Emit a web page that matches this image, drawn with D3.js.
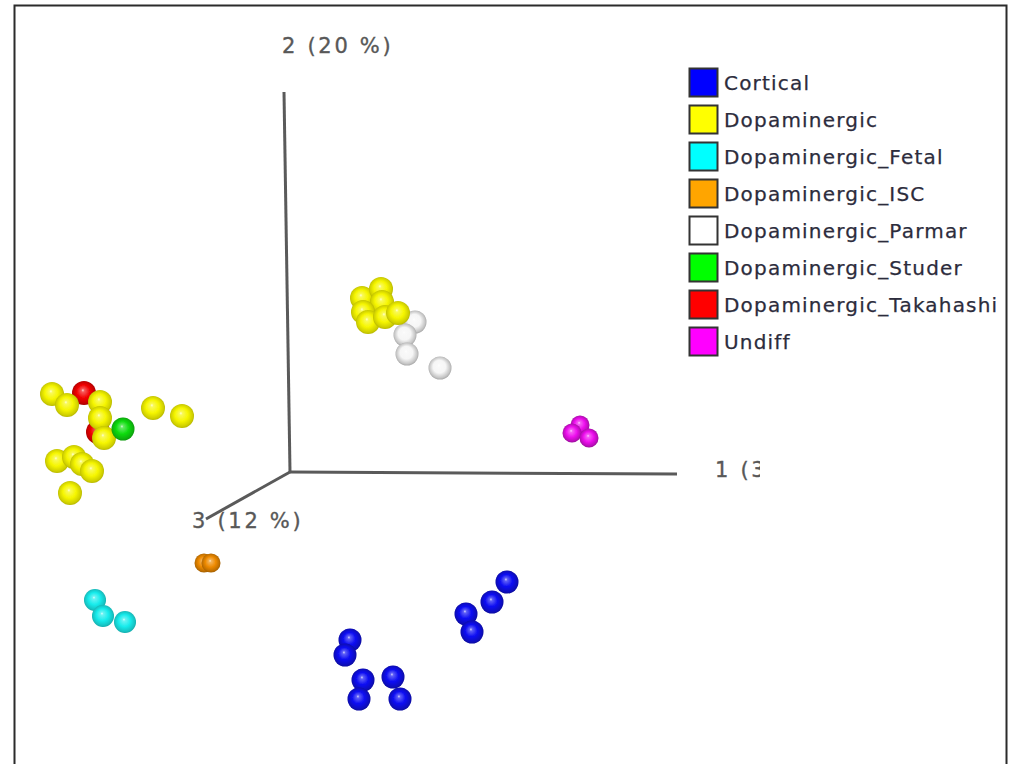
<!DOCTYPE html>
<html>
<head>
<meta charset="utf-8">
<script src="https://cdn.jsdelivr.net/npm/d3@7"></script>
<style>
  body { margin: 0; background: #fff; }
  svg { display: block; }
</style>
</head>
<body>
<script>
// PCA scores projected onto the viewing plane (horizontal, vertical)
const groups = ["Cortical", "Dopaminergic", "Dopaminergic_Fetal", "Dopaminergic_ISC",
                "Dopaminergic_Parmar", "Dopaminergic_Studer", "Dopaminergic_Takahashi", "Undiff"];

const cortical = [[15, -42], [13.75, -45.75], [18.25, -52], [17.25, -56.75], [25.75, -51.25],
                  [27.5, -56.75], [44, -35.5], [45.5, -40], [50.5, -32.5], [54.25, -27.5]];
const dopaminergic = [[-59.5, 19.5], [-55.75, 16.75], [-47.5, 17.5], [-47.5, 13.5], [-46.5, 8.5],
                      [-34.25, 16], [-27, 14], [-58.25, 2.75], [-54, 3.75], [-52, 2],
                      [-49.5, 0.25], [-55, -5.25],
                      [18, 43.5], [22.75, 45.75], [23, 42.5], [18.25, 40], [19.5, 37.5],
                      [23.75, 38.75], [27, 39.75]];
const fetal = [[-48.75, -32], [-46.75, -36], [-41.25, -37.5]];
const isc = [[-21.5, -22.75], [-19.75, -22.75]];
const parmar = [[31.25, 37.5], [28.75, 34.25], [29.25, 29.5], [37.5, 26]];
const studer = [[-41.75, 10.75]];
const takahashi = [[-51.5, 19.75], [-48, 10]];
const undiff = [[72.5, 11.75], [70.5, 9.75], [74.75, 8.5]];

// Axis directions in the viewing plane, with their titles
const axisEnds = [[96.75, -0.5], [-1.5, 95], [-21, -11.75]];
const axisTitles = ["1 (33 %)", "2 (20 %)", "3 (12 %)"];

const W = 1012, H = 764;

const colors = {
  "Cortical": "#0a0af2",
  "Dopaminergic": "#f6f600",
  "Dopaminergic_Fetal": "#18ecec",
  "Dopaminergic_ISC": "#ee8a00",
  "Dopaminergic_Parmar": "#f6f6f6",
  "Dopaminergic_Studer": "#10dd10",
  "Dopaminergic_Takahashi": "#f20000",
  "Undiff": "#ee10ee"
};
const swatch = {
  "Cortical": "#0000ff", "Dopaminergic": "#ffff00", "Dopaminergic_Fetal": "#00ffff",
  "Dopaminergic_ISC": "#ffa500", "Dopaminergic_Parmar": "#ffffff",
  "Dopaminergic_Studer": "#00ff00", "Dopaminergic_Takahashi": "#ff0000", "Undiff": "#ff00ff"
};
const radius = {
  "Cortical": 11.5, "Dopaminergic": 12, "Dopaminergic_Fetal": 11, "Dopaminergic_ISC": 9.5,
  "Dopaminergic_Parmar": 11.5, "Dopaminergic_Studer": 11.5, "Dopaminergic_Takahashi": 12, "Undiff": 9.5
};
const edgeDark = {
  "Cortical": 0.45, "Dopaminergic": 0.32, "Dopaminergic_Fetal": 0.35, "Dopaminergic_ISC": 0.4,
  "Dopaminergic_Parmar": 0.9, "Dopaminergic_Studer": 0.4, "Dopaminergic_Takahashi": 0.4, "Undiff": 0.45
};

// drawing order: farther samples first
const layers = [
  ["Dopaminergic_Takahashi", takahashi],
  ["Dopaminergic_Parmar", parmar],
  ["Dopaminergic", dopaminergic],
  ["Dopaminergic_Studer", studer],
  ["Dopaminergic_Fetal", fetal],
  ["Dopaminergic_ISC", isc],
  ["Undiff", undiff],
  ["Cortical", cortical]
];

const x = d3.scaleLinear().domain([-60, 120]).range([50, 770]);
const y = d3.scaleLinear().domain([-60, 100]).range([712, 72]);

const svg = d3.select("body").append("svg").attr("width", W).attr("height", H);
const defs = svg.append("defs");

defs.append("clipPath").attr("id", "view")
  .append("rect").attr("x", 15).attr("y", 6).attr("width", 745).attr("height", H);

defs.append("filter").attr("id", "soft")
  .attr("x", "-20%").attr("y", "-20%").attr("width", "140%").attr("height", "140%")
  .append("feGaussianBlur").attr("stdDeviation", 0.6);

groups.forEach((g, i) => {
  const base = d3.color(colors[g]);
  const isWhite = g === "Dopaminergic_Parmar";
  const grad = defs.append("radialGradient").attr("id", "sph" + i)
    .attr("cx", "50%").attr("cy", "50%").attr("r", "55%")
    .attr("fx", "45%").attr("fy", "38%");
  const hi = d3.interpolateRgb(base, "#ffffff");
  const dk = d3.interpolateRgb(base, isWhite ? "#8a8a8a" : "#000000");
  grad.append("stop").attr("offset", "0%").attr("stop-color", hi(0.85));
  grad.append("stop").attr("offset", "12%").attr("stop-color", hi(0.35));
  grad.append("stop").attr("offset", "50%").attr("stop-color", base.formatHex());
  grad.append("stop").attr("offset", "82%").attr("stop-color", dk(edgeDark[g] * 0.5));
  grad.append("stop").attr("offset", "100%").attr("stop-color", dk(edgeDark[g]));
});

// frame
svg.append("rect")
  .attr("x", 14.5).attr("y", 5.5).attr("width", 992).attr("height", H + 10)
  .attr("fill", "none").attr("stroke", "#2b2b2b").attr("stroke-width", 2);

const plot = svg.append("g").attr("clip-path", "url(#view)");

// coordinate axes from the origin
plot.append("g").selectAll("line")
  .data(axisEnds)
  .join("line")
  .attr("x1", x(0)).attr("y1", y(0))
  .attr("x2", d => x(d[0])).attr("y2", d => y(d[1]))
  .attr("stroke", "#5a5a5a").attr("stroke-width", 3).attr("stroke-linecap", "butt");

const titleOffsets = [[38, 3], [-2, -39], [-14, 9]];
plot.append("g").selectAll("text")
  .data(axisTitles)
  .join("text")
  .attr("x", (d, i) => x(axisEnds[i][0]) + titleOffsets[i][0])
  .attr("y", (d, i) => y(axisEnds[i][1]) + titleOffsets[i][1])
  .attr("font-family", "DejaVu Sans, Verdana, sans-serif")
  .attr("font-size", 21)
  .attr("letter-spacing", 2.7)
  .attr("fill", "#585858")
  .attr("stroke", "#585858").attr("stroke-width", 0.35)
  .text(d => d);

// samples as shaded spheres
const spheres = plot.append("g").attr("filter", "url(#soft)");
layers.forEach(([g, pts]) => {
  const gi = groups.indexOf(g);
  spheres.append("g").selectAll("circle")
    .data(pts)
    .join("circle")
    .attr("cx", d => x(d[0]))
    .attr("cy", d => y(d[1]))
    .attr("r", radius[g])
    .attr("fill", `url(#sph${gi})`);
});

// legend
const legend = svg.append("g").attr("transform", "translate(689,68)");
const row = legend.selectAll("g").data(groups).join("g")
  .attr("transform", (d, i) => `translate(0,${i * 37})`);
row.append("rect")
  .attr("x", 0.5).attr("y", 0.5).attr("width", 28).attr("height", 28)
  .attr("fill", d => swatch[d]).attr("stroke", "#333").attr("stroke-width", 2);
row.append("text")
  .attr("x", 35).attr("y", 22)
  .attr("font-family", "DejaVu Sans, Verdana, sans-serif")
  .attr("font-size", 20)
  .attr("letter-spacing", 1.2)
  .attr("fill", "#2c2c3c")
  .attr("stroke", "#2c2c3c").attr("stroke-width", 0.25)
  .text(d => d);
</script>
</body>
</html>
